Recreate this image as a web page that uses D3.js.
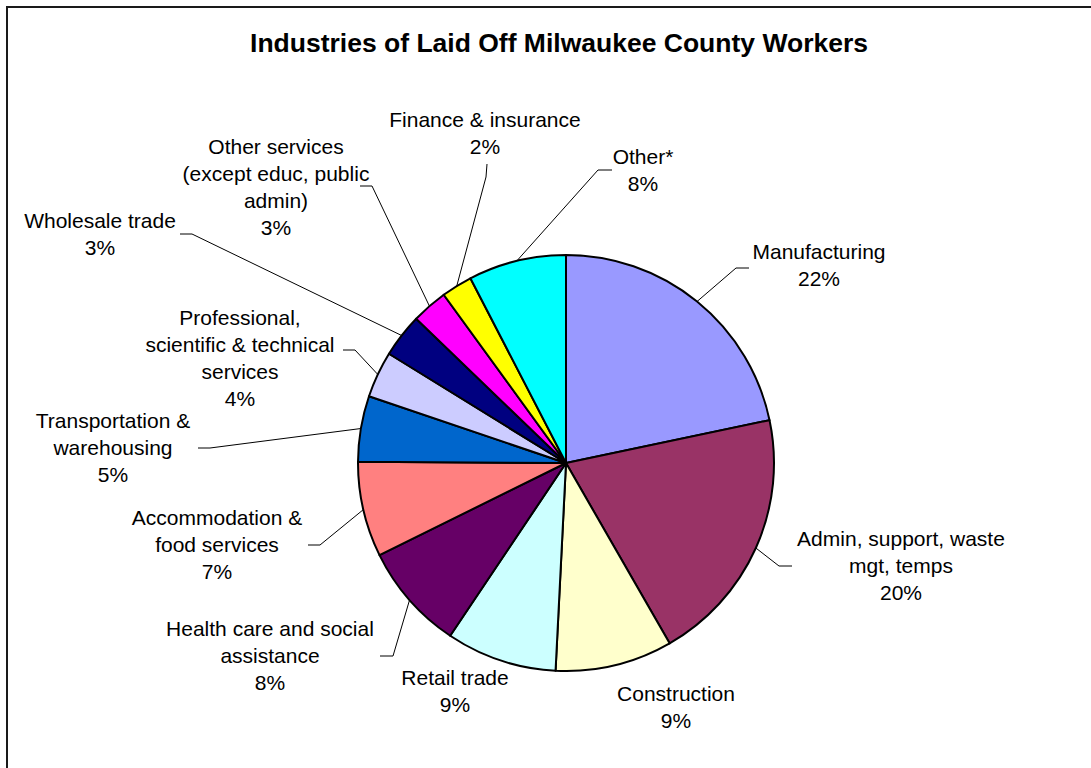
<!DOCTYPE html>
<html>
<head>
<meta charset="utf-8">
<script src="https://cdn.jsdelivr.net/npm/d3@7/dist/d3.min.js"></script>
<style>
  html, body { margin: 0; padding: 0; background: #fff; }
  svg { display: block; }
  text { font-family: "Liberation Sans", Arial, sans-serif; fill: #000; }
</style>
</head>
<body>
<svg id="chart" width="1091" height="768"></svg>
<script>
// ---- data ----
const title = "Industries of Laid Off Milwaukee County Workers";
const categories = [
  "Manufacturing",
  "Admin, support, waste mgt, temps",
  "Construction",
  "Retail trade",
  "Health care and social assistance",
  "Accommodation & food services",
  "Transportation & warehousing",
  "Professional, scientific & technical services",
  "Wholesale trade",
  "Other services (except educ, public admin)",
  "Finance & insurance",
  "Other*"
];
const values = [21.7, 20.0, 9.1, 8.6, 8.3, 7.4, 5.1, 3.6, 3.4, 2.8, 2.4, 7.6];
const colors = ["#9999FF", "#993366", "#FFFFCC", "#CCFFFF", "#660066", "#FF8080",
                "#0066CC", "#CCCCFF", "#000080", "#FF00FF", "#FFFF00", "#00FFFF"];

// ---- label layout (text lines, centre x, first-line y, leader start/elbow) ----
const labelLines = [
  ["Manufacturing"],
  ["Admin, support, waste", "mgt, temps"],
  ["Construction"],
  ["Retail trade"],
  ["Health care and social", "assistance"],
  ["Accommodation &", "food services"],
  ["Transportation &", "warehousing"],
  ["Professional,", "scientific & technical", "services"],
  ["Wholesale trade"],
  ["Other services", "(except educ, public", "admin)"],
  ["Finance & insurance"],
  ["Other*"]
];
const labelLayout = [
  {x: 819, y: 259, leader: [[749, 268], [736, 268]]},
  {x: 901, y: 546, leader: [[792, 566], [779, 566]]},
  {x: 676, y: 701, leader: null},
  {x: 455, y: 685, leader: null},
  {x: 270, y: 636, leader: [[380, 656], [393, 656]]},
  {x: 217, y: 525, leader: [[308, 545], [320, 545]]},
  {x: 113, y: 428, leader: [[198, 448], [210, 448]]},
  {x: 240, y: 325, leader: [[343, 350], [355, 350]]},
  {x: 100, y: 228, leader: [[180, 234], [192, 234]]},
  {x: 276, y: 154, leader: [[360, 186], [372, 186]]},
  {x: 485, y: 127, leader: [[487, 164], [486, 177]]},
  {x: 643, y: 164, leader: [[612, 170], [598, 170]]}
];

const W = 1091, H = 768;
const cx = 566, cy = 463, R = 208;
const lineH = 27;

const svg = d3.select("#chart");

// frame
svg.append("rect")
  .attr("x", 7).attr("y", 7)
  .attr("width", W + 20).attr("height", H + 20)
  .attr("fill", "none").attr("stroke", "#1a1a1a").attr("stroke-width", 2);

// title
svg.append("text")
  .attr("x", 559).attr("y", 52)
  .attr("text-anchor", "middle")
  .style("font-size", "26.5px").style("font-weight", "bold")
  .text(title);

const data = categories.map((c, i) => ({name: c, value: values[i], color: colors[i], i}));

const pie = d3.pie().value(d => d.value).sort(null);
const arcs = pie(data);
const arc = d3.arc().innerRadius(0).outerRadius(R);

const g = svg.append("g").attr("transform", `translate(${cx},${cy})`);

g.selectAll("path.slice")
  .data(arcs)
  .join("path")
  .attr("class", "slice")
  .attr("d", arc)
  .attr("fill", d => d.data.color)
  .attr("stroke", "#000")
  .attr("stroke-width", 2)
  .attr("stroke-linejoin", "round");

// leader lines
const line = d3.line();
arcs.forEach((a, i) => {
  const lay = labelLayout[i];
  if (!lay.leader) return;
  const mid = (a.startAngle + a.endAngle) / 2;
  const ex = cx + R * Math.sin(mid);
  const ey = cy - R * Math.cos(mid);
  const pts = lay.leader.concat([[ex, ey]]);
  svg.append("path")
    .attr("d", line(pts))
    .attr("fill", "none")
    .attr("stroke", "#000")
    .attr("stroke-width", 1);
});

// labels
arcs.forEach((a, i) => {
  const lay = labelLayout[i];
  const lines = labelLines[i].concat([Math.round(a.data.value) + "%"]);
  const t = svg.append("text")
    .attr("text-anchor", "middle")
    .style("font-size", "21px");
  lines.forEach((s, k) => {
    t.append("tspan")
      .attr("x", lay.x)
      .attr("y", lay.y + k * lineH)
      .text(s);
  });
});
</script>
</body>
</html>
